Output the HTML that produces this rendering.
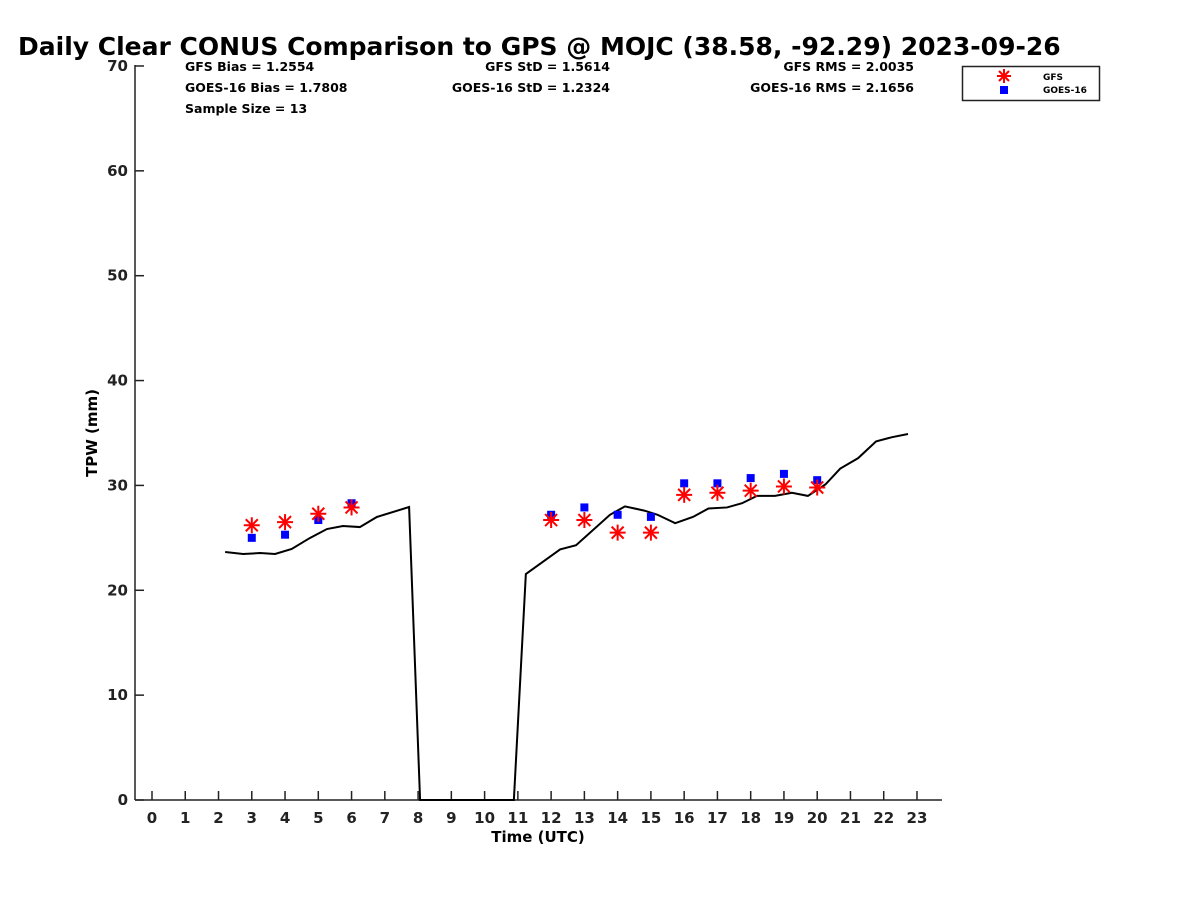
<!DOCTYPE html>
<html><head><meta charset="utf-8"><style>
body{margin:0;background:#fff;}
svg text{font-family:"DejaVu Sans","Liberation Sans",sans-serif;font-weight:bold;}
</style></head><body>
<svg id="c" width="1200" height="900" xmlns="http://www.w3.org/2000/svg">
<text x="18" y="55" font-size="25">Daily Clear CONUS Comparison to GPS @ MOJC (38.58, -92.29) 2023-09-26</text>
<g font-size="12.5">
<text x="185" y="71">GFS Bias = 1.2554</text>
<text x="185" y="92">GOES-16 Bias = 1.7808</text>
<text x="185" y="113">Sample Size = 13</text>
<text x="610" y="71" text-anchor="end">GFS StD = 1.5614</text>
<text x="610" y="92" text-anchor="end">GOES-16 StD = 1.2324</text>
<text x="914" y="71" text-anchor="end">GFS RMS = 2.0035</text>
<text x="914" y="92" text-anchor="end">GOES-16 RMS = 2.1656</text>
</g>
<g id="axes"></g><g id="marks"></g>
<g>
<rect x="962.5" y="66.5" width="137" height="34" fill="#fff" stroke="#222" stroke-width="1.5"/>
<g stroke="red" stroke-width="2"><line x1="997" y1="76" x2="1011" y2="76"/><line x1="1004" y1="69" x2="1004" y2="83"/><line x1="999" y1="71" x2="1009" y2="81"/><line x1="1009" y1="71" x2="999" y2="81"/></g>
<rect x="1000" y="86" width="8" height="8" fill="blue"/>
<text x="1043" y="80" font-size="9">GFS</text>
<text x="1043" y="93" font-size="9">GOES-16</text>
</g>
<text x="538" y="842" font-size="15" text-anchor="middle">Time (UTC)</text>
<text transform="translate(97,433) rotate(-90)" font-size="15" text-anchor="middle">TPW (mm)</text>
</svg>
<script>
const gpsT=[2.2,2.74,3.25,3.7,4.2,4.75,5.26,5.74,6.25,6.76,7.73,8.06,10.88,11.24,12.27,12.75,13.77,14.22,14.8,15.2,15.73,16.27,16.73,17.29,17.74,18.19,18.73,19.24,19.72,20.25,20.69,21.23,21.77,22.25,22.73];
const gpsV=[23.65,23.46,23.55,23.46,23.94,24.99,25.84,26.13,26.03,26.99,27.94,0,0,21.55,23.9,24.3,27.2,28.0,27.6,27.2,26.4,27.0,27.8,27.9,28.3,29.0,29.0,29.3,29.0,30.1,31.6,32.6,34.2,34.6,34.9];
const hours=[3,4,5,6,12,13,14,15,16,17,18,19,20];
const gfsV=[26.2,26.5,27.3,27.9,26.7,26.7,25.5,25.5,29.1,29.3,29.5,29.9,29.8];
const goesV=[25.0,25.3,26.7,28.3,27.2,27.9,27.2,27.0,30.2,30.2,30.7,31.1,30.5];
const xTicks=[0,1,2,3,4,5,6,7,8,9,10,11,12,13,14,15,16,17,18,19,20,21,22,23];
const yTicks=[0,10,20,30,40,50,60,70];
const NS="http://www.w3.org/2000/svg";
const X=t=>152+t*33.26, Y=v=>800-v*10.486;
function mk(tag,at,p){const e=document.createElementNS(NS,tag);for(const k in at)e.setAttribute(k,at[k]);p.appendChild(e);return e;}
const ax=document.getElementById('axes'),mg=document.getElementById('marks');
const xl=mk('line',{x1:135,y1:800,x2:942,y2:800,stroke:'#222','stroke-width':1.5},ax);


const yl=mk('line',{x1:135,y1:65,x2:135,y2:800,stroke:'#222','stroke-width':1.5},ax);


xTicks.forEach(t=>{mk('line',{x1:X(t),y1:800,x2:X(t),y2:791,stroke:'#222','stroke-width':1.5},ax);
const tx=mk('text',{x:X(t),y:823,'font-size':15,'text-anchor':'middle',fill:'#222'},ax);tx.textContent=t;

});
yTicks.forEach(v=>{mk('line',{x1:135,y1:Y(v),x2:144,y2:Y(v),stroke:'#222','stroke-width':1.5},ax);
const tx=mk('text',{x:128,y:Y(v)+5,'font-size':15,'text-anchor':'end',fill:'#222'},ax);tx.textContent=v;

});
const pl=mk('polyline',{points:gpsT.map((t,i)=>X(t)+','+Y(gpsV[i])).join(' '),fill:'none',stroke:'#000','stroke-width':2},mg);


hours.forEach((h,i)=>{
const r=mk('rect',{x:X(h)-4,y:Y(goesV[i])-4,width:8,height:8,fill:'blue'},mg);


const cx=X(h),cy=Y(gfsV[i]);
const g=mk('g',{stroke:'red','stroke-width':2},mg);


mk('line',{x1:cx-8,y1:cy,x2:cx+8,y2:cy},g);mk('line',{x1:cx,y1:cy-8,x2:cx,y2:cy+8},g);
mk('line',{x1:cx-6,y1:cy-6,x2:cx+6,y2:cy+6},g);mk('line',{x1:cx+6,y1:cy-6,x2:cx-6,y2:cy+6},g);
});
</script>
</body></html>
